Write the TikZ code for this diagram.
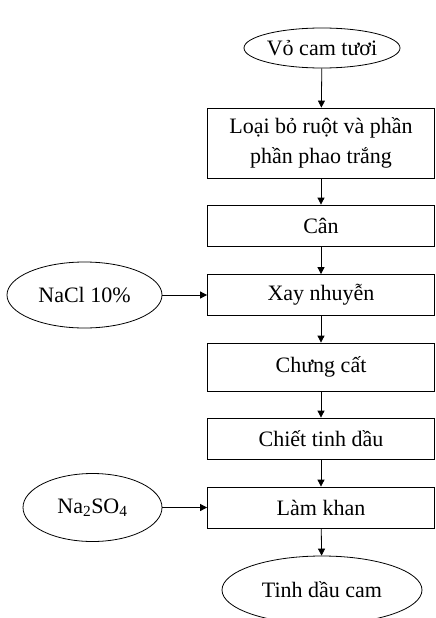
\documentclass[tikz,border=0pt]{standalone}
\usepackage{fontspec}
\setmainfont{Liberation Serif}
\usetikzlibrary{arrows.meta, shapes.geometric}

\begin{document}
\begin{tikzpicture}[x=1pt, y=-1pt, font=\fontsize{22}{30}\selectfont, line width=0.8pt,
  stepbox/.style={draw, minimum width=227pt, inner sep=2pt, align=center},
  oval/.style={draw, ellipse, inner sep=0pt},
  flow/.style={-{Triangle[length=7pt, width=7pt]}}]
\useasboundingbox (0,0) rectangle (436,618);
\node[oval, minimum width=154pt, minimum height=40pt] (vo) at (322,48) {Vỏ cam tươi};
\node[stepbox, minimum height=70pt] (loai) at (321,143) {Loại bỏ ruột và phần\\phần phao trắng};
\node[stepbox, minimum height=41pt] (can) at (321,225.5) {Cân};
\node[stepbox, minimum height=41pt] (xay) at (321,295) {Xay nhuyễn};
\node[stepbox, minimum height=48pt] (chung) at (321,367) {Chưng cất};
\node[stepbox, minimum height=41pt] (chiet) at (321,438.5) {Chiết tinh dầu};
\node[stepbox, minimum height=41pt] (lam) at (321,507.5) {Làm khan};
\node[oval, minimum width=200pt, minimum height=68pt] (tinh) at (322,590) {Tinh dầu cam};
\node[oval, minimum width=155pt, minimum height=66pt] (nacl) at (84.5,295) {NaCl 10\%};
\node[oval, minimum width=139pt, minimum height=68pt] (natri) at (92.5,507.5) {Na\textsubscript{2}SO\textsubscript{4}};
% main line
\draw[flow] (vo) -- (loai); \draw[flow] (loai) -- (can); \draw[flow] (can) -- (xay); \draw[flow] (xay) -- (chung);
\draw[flow] (chung) -- (chiet); \draw[flow] (chiet) -- (lam); \draw[flow] (lam) -- (tinh);
% side inputs
\draw[flow] (nacl) -- (xay); \draw[flow] (natri) -- (lam);
\end{tikzpicture}
\end{document}
